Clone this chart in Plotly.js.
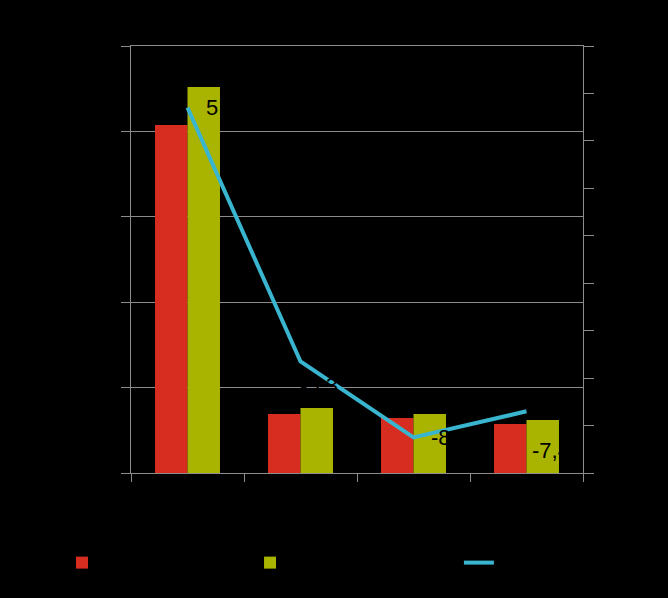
<!DOCTYPE html>
<html>
<head>
<meta charset="utf-8">
<script src="https://cdn.plot.ly/plotly-3.0.1.min.js"></script>
<style>
  html, body { margin: 0; padding: 0; background: #000; }
  #chart { width: 668px; height: 598px; }
</style>
</head>
<body>
<div id="chart"></div>
<script>
// data (labels are black on black in the original)
var categories = ['A', 'B', 'C', 'D'];
var seriesA = [40750, 6900, 6450, 5750];
var seriesB = [45200, 7600, 6900, 6200];
var lineValues = [5.4, -5.3, -8.5, -7.4];
var seriesNames = ['Series A', 'Series B', 'Change'];

// label offsets in px, relative to the line points
var labelShiftX = [16, -3, 15, 3];
var labelShiftY = [0, -24, 0, -39];

var grey = 'rgb(140,140,140)';
var txt = {family: 'Liberation Sans, Arial, sans-serif', size: 14, color: '#000'};

var traceA = {
  x: categories,
  y: seriesA,
  type: 'bar',
  name: seriesNames[0],
  legend: 'legend',
  marker: {color: 'rgb(214,45,32)'},
  hoverinfo: 'y'
};
var traceB = {
  x: categories,
  y: seriesB,
  type: 'bar',
  name: seriesNames[1],
  legend: 'legend2',
  marker: {color: 'rgb(169,180,0)'},
  hoverinfo: 'y'
};
var traceC = {
  x: categories,
  y: lineValues,
  type: 'scatter',
  mode: 'lines',
  yaxis: 'y2',
  name: seriesNames[2],
  legend: 'legend3',
  line: {color: 'rgb(58,181,207)', width: 4}
};

var notes = [];
for (var i = 0; i < categories.length; i++) {
  notes.push({
    x: categories[i],
    y: lineValues[i],
    xref: 'x',
    yref: 'y2',
    text: lineValues[i].toFixed(1).replace('.', ','),
    showarrow: false,
    xanchor: 'left',
    yanchor: 'middle',
    xshift: labelShiftX[i],
    yshift: labelShiftY[i],
    font: {family: 'Liberation Sans, Arial, sans-serif', size: 22, color: '#000'}
  });
}

function legendAt(x) {
  return {
    orientation: 'h',
    xref: 'container',
    x: x,
    xanchor: 'left',
    yref: 'container',
    y: 0.0585,
    yanchor: 'middle',
    font: txt,
    bgcolor: 'rgba(0,0,0,0)'
  };
}

var layout = {
  width: 668,
  height: 598,
  margin: {l: 131, r: 85, t: 46, b: 125},
  paper_bgcolor: '#000',
  plot_bgcolor: '#000',
  font: txt,
  separators: ', ',
  barmode: 'group',
  bargap: 0.425,
  bargroupgap: 0,
  showlegend: true,
  legend: legendAt(0.0928),
  legend2: legendAt(0.3743),
  legend3: legendAt(0.687),
  xaxis: {
    type: 'category',
    range: [-0.5, 3.5],
    showline: true,
    mirror: true,
    linecolor: grey,
    linewidth: 1,
    ticks: 'outside',
    tickson: 'boundaries',
    ticklen: 8,
    tickcolor: grey,
    showgrid: false,
    tickfont: txt
  },
  yaxis: {
    range: [0, 50000],
    dtick: 10000,
    showline: true,
    linecolor: grey,
    linewidth: 1,
    ticks: 'outside',
    ticklen: 9,
    tickcolor: grey,
    showgrid: true,
    gridcolor: grey,
    gridwidth: 1,
    zeroline: false,
    tickfont: txt
  },
  yaxis2: {
    overlaying: 'y',
    side: 'right',
    range: [-10, 8],
    dtick: 2,
    showline: true,
    linecolor: grey,
    linewidth: 1,
    ticks: 'outside',
    ticklen: 10,
    tickcolor: grey,
    showgrid: false,
    zeroline: false,
    tickfont: txt
  },
  annotations: notes
};

Plotly.newPlot('chart', [traceA, traceB, traceC], layout, {displayModeBar: false, staticPlot: true});
</script>
</body>
</html>
